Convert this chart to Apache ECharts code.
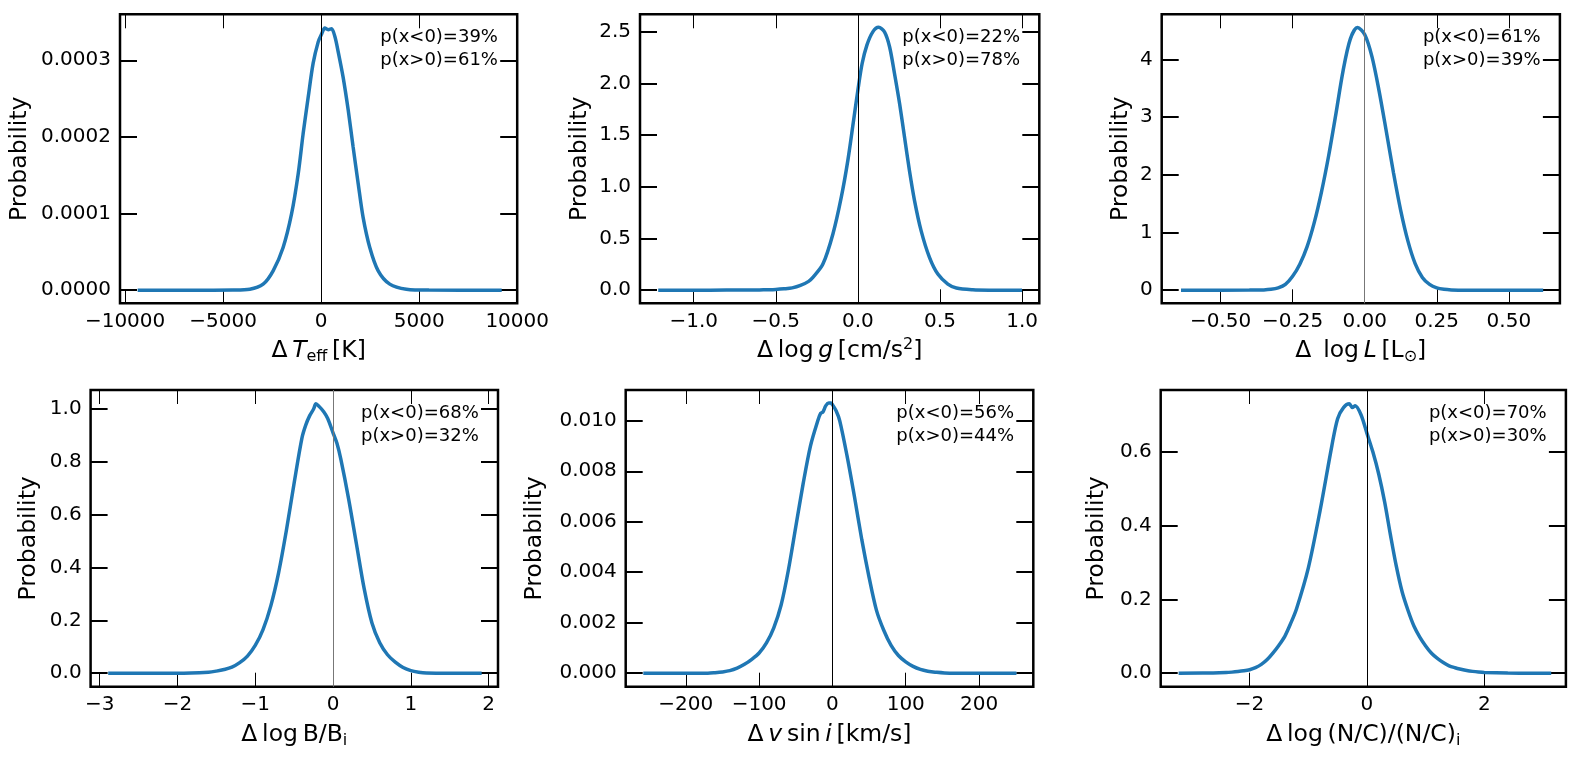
<!DOCTYPE html>
<html>
<head>
<meta charset="utf-8">
<title>Posterior differences</title>
<script src="https://cdn.jsdelivr.net/npm/echarts@6/dist/echarts.min.js"></script>
<style>
  html, body { margin: 0; padding: 0; background: #fff; }
  #main { width: 1576px; height: 759px; }
</style>
</head>
<body>
<div id="main"></div>
<script>
// curves (x, probability density)
const teffX = [-9360, -6000, -4500, -3640, -2960, -2450, -1940, -1510, -1170, -920, -660, -410, -150, 0, 190, 360, 530, 700, 870, 1120, 1380, 1630, 1890, 2140, 2480, 2910, 3500, 4350, 5500, 9210]
const teffY = [0, 0, 0.0000002, 0.0000013, 0.0000079, 0.0000253, 0.0000558, 0.0000995, 0.000152, 0.000204, 0.000252, 0.000296, 0.000324, 0.000333, 0.000342, 0.00034, 0.000341, 0.000331, 0.000311, 0.000278, 0.000235, 0.000187, 0.000139, 0.000095, 0.0000558, 0.0000253, 0.0000079, 0.0000013, 0.0000001, 0]

const loggX = [-1.216, -0.9, -0.7, -0.6, -0.55, -0.5, -0.45, -0.4, -0.35, -0.3, -0.274, -0.213, -0.152, -0.101, -0.061, -0.026, 0, 0.026, 0.055, 0.091, 0.126, 0.162, 0.193, 0.223, 0.254, 0.284, 0.314, 0.345, 0.385, 0.436, 0.487, 0.548, 0.6, 0.7, 0.8, 1.0]
const loggY = [0, 0, 0.0005, 0.002, 0.004, 0.007, 0.013, 0.022, 0.045, 0.085, 0.123, 0.252, 0.544, 0.9, 1.256, 1.644, 1.935, 2.194, 2.372, 2.5, 2.544, 2.5, 2.356, 2.097, 1.806, 1.482, 1.158, 0.867, 0.576, 0.317, 0.155, 0.058, 0.02, 0.003, 0, 0]

const loglX = [-0.637, -0.4, -0.35, -0.325, -0.3, -0.275, -0.25, -0.225, -0.2, -0.175, -0.15, -0.125, -0.1, -0.075, -0.05, -0.025, 0, 0.025, 0.05, 0.075, 0.1, 0.125, 0.15, 0.175, 0.2, 0.225, 0.25, 0.275, 0.3, 0.35, 0.619]
const loglY = [0, 0.001, 0.005, 0.015, 0.04, 0.1, 0.24, 0.45, 0.75, 1.17, 1.7, 2.33, 3.05, 3.8, 4.35, 4.55, 4.43, 4.05, 3.45, 2.75, 2.03, 1.38, 0.85, 0.46, 0.22, 0.1, 0.04, 0.015, 0.005, 0, 0]

const logbX = [-2.89, -2.0, -1.6, -1.5, -1.4, -1.3, -1.2, -1.1, -1.0, -0.9, -0.8, -0.7, -0.6, -0.5, -0.4, -0.35, -0.3, -0.25, -0.22, -0.18, -0.12, -0.07, 0, 0.05, 0.1, 0.2, 0.3, 0.4, 0.5, 0.6, 0.7, 0.8, 0.9, 1.0, 1.1, 1.2, 1.5, 1.91]
const logbY = [0, 0, 0.004, 0.008, 0.014, 0.023, 0.04, 0.065, 0.105, 0.165, 0.255, 0.38, 0.54, 0.72, 0.89, 0.94, 0.975, 1.0, 1.02, 1.01, 0.99, 0.965, 0.91, 0.87, 0.81, 0.66, 0.49, 0.32, 0.19, 0.115, 0.07, 0.042, 0.022, 0.01, 0.004, 0.001, 0, 0]

const vsiniX = [-258, -170, -160, -150, -140, -130, -120, -110, -100, -90, -80, -70, -60, -50, -40, -30, -20, -16, -13, -9, -5, -2, 0, 5, 10, 20, 30, 40, 50, 60, 70, 80, 90, 100, 110, 120, 130, 140, 160, 251]
const vsiniY = [0, 0, 0.00002, 0.00005, 0.0001, 0.0002, 0.00035, 0.00055, 0.0008, 0.0012, 0.0018, 0.0027, 0.0041, 0.0058, 0.0075, 0.009, 0.01, 0.0103, 0.01035, 0.0106, 0.0107, 0.0107, 0.01064, 0.0104, 0.01, 0.0086, 0.007, 0.0053, 0.0038, 0.0025, 0.0017, 0.0011, 0.0007, 0.00045, 0.00027, 0.00015, 0.00008, 0.00004, 0, 0]

const ncX = [-3.21, -2.8, -2.4, -2.3, -2.2, -2.1, -2.0, -1.9, -1.8, -1.7, -1.6, -1.5, -1.4, -1.3, -1.2, -1.0, -0.8, -0.6, -0.5, -0.4, -0.3, -0.25, -0.2, -0.1, 0, 0.1, 0.2, 0.3, 0.4, 0.5, 0.6, 0.7, 0.8, 0.9, 1.0, 1.1, 1.2, 1.3, 1.4, 1.5, 1.6, 1.7, 1.8, 1.9, 2.0, 2.4, 2.8, 3.14]
const ncY = [0, 0.0003, 0.002, 0.003, 0.0045, 0.0065, 0.0095, 0.015, 0.024, 0.037, 0.055, 0.076, 0.1, 0.135, 0.175, 0.285, 0.44, 0.615, 0.69, 0.72, 0.73, 0.72, 0.725, 0.7, 0.65, 0.6, 0.54, 0.465, 0.375, 0.29, 0.22, 0.17, 0.128, 0.098, 0.074, 0.054, 0.04, 0.029, 0.02, 0.015, 0.011, 0.0075, 0.005, 0.0032, 0.002, 0.0005, 0, 0]

// tick values
const teffTicksX = [-10000, -5000, 0, 5000, 10000]
const teffTicksY = [0, 0.0001, 0.0002, 0.0003]
const loggTicksX = [-1, -0.5, 0, 0.5, 1]
const loggTicksY = [0, 0.5, 1, 1.5, 2, 2.5]
const loglTicksX = [-0.5, -0.25, 0, 0.25, 0.5]
const loglTicksY = [0, 1, 2, 3, 4]
const logbTicksX = [-3, -2, -1, 0, 1, 2]
const logbTicksY = [0, 0.2, 0.4, 0.6, 0.8, 1.0]
const vsiniTicksX = [-200, -100, 0, 100, 200]
const vsiniTicksY = [0, 0.002, 0.004, 0.006, 0.008, 0.010]
const ncTicksX = [-2, 0, 2]
const ncTicksY = [0, 0.2, 0.4, 0.6]

const pBelow = ['39%', '22%', '61%', '68%', '56%', '70%']
const pAbove = ['61%', '78%', '39%', '32%', '44%', '30%']

const FONT = 'DejaVu Sans'

const panels = [
    { box: [120, 14.3, 397.2, 289], xr: [-10260, 10000], yr: [-0.0000171, 0.00036],
      xs: teffX, ys: teffY, xt: teffTicksX, yt: teffTicksY, xd: 0, yd: 4, yGap: 88, zero: '#000',
      name: '{n|Δ\u2009}{it|T}{sb|eff}{n|\u2009[K]}' },
    { box: [640, 14.3, 399.3, 289], xr: [-1.327, 1.105], yr: [-0.1275, 2.67],
      xs: loggX, ys: loggY, xt: loggTicksX, yt: loggTicksY, xd: 1, yd: 1, yGap: 48, zero: '#000',
      name: '{n|Δ\u2009log\u2009}{it|g}{n|\u2009[cm/s}{sp|2}{n|]}' },
    { box: [1161.7, 14.3, 398.2, 289], xr: [-0.704, 0.677], yr: [-0.2275, 4.78],
      xs: loglX, ys: loglY, xt: loglTicksX, yt: loglTicksY, xd: 2, yd: 0, yGap: 29, zero: '#777',
      name: '{n|Δ\u2002log\u2009}{it|L}{n|\u2009[L}{sb|⊙}{n|]}' },
    { box: [90.6, 390, 407.4, 296.7], xr: [-3.116, 2.12], yr: [-0.051, 1.072],
      xs: logbX, ys: logbY, xt: logbTicksX, yt: logbTicksY, xd: 0, yd: 1, yGap: 50, zero: '#777',
      name: '{n|Δ\u2009log\u2009B/B}{sb|i}' },
    { box: [625.7, 390, 407.6, 296.7], xr: [-282, 274], yr: [-0.000535, 0.01122],
      xs: vsiniX, ys: vsiniY, xt: vsiniTicksX, yt: vsiniTicksY, xd: 0, yd: 3, yGap: 79, zero: '#000',
      name: '{n|Δ\u2009}{it|v}{n|\u2009sin\u2009}{it|i}{n|\u2009[km/s]}' },
    { box: [1160.7, 390, 405.2, 296.7], xr: [-3.515, 3.39], yr: [-0.0365, 0.7676],
      xs: ncX, ys: ncY, xt: ncTicksX, yt: ncTicksY, xd: 0, yd: 1, yGap: 52, zero: '#000',
      name: '{n|Δ\u2009log\u2009(N/C)/(N/C)}{sb|i}' }
]

const rich = {
    n: { fontSize: 23.5, fontFamily: FONT, lineHeight: 28, color: '#000' },
    it: { fontSize: 23.5, fontFamily: FONT, fontStyle: 'italic', lineHeight: 28, color: '#000' },
    sb: { fontSize: 16, fontFamily: FONT, lineHeight: 16, padding: [12, 0, 0, 0], color: '#000' },
    sp: { fontSize: 16, fontFamily: FONT, lineHeight: 16, padding: [0, 0, 12, 0], color: '#000' }
}

function fmt(v, d) {
    let s = Math.abs(v).toFixed(d)
    return (v < -1e-12 ? '\u2212' : '') + s
}

let grids = [], xAxes = [], yAxes = [], series = [], texts = []

panels.forEach((p, i) => {
    let [left, top, width, height] = p.box
    grids.push({
        left: left, top: top, width: width, height: height,
        show: true, borderColor: '#000', borderWidth: 2.5,
        backgroundColor: 'rgba(0,0,0,0)', containLabel: false, outerBoundsMode: 'none'
    })

    // bottom + top x axes
    ;['bottom', 'top'].forEach(pos => {
        let main = pos === 'bottom'
        xAxes.push({
            type: 'value', gridIndex: i, position: pos,
            min: p.xr[0], max: p.xr[1],
            axisLine: { show: false, onZero: false }, splitLine: { show: false },
            axisTick: { show: true, inside: true, length: 14, customValues: p.xt,
                lineStyle: { color: '#000', width: 1 } },
            axisLabel: { show: main, customValues: p.xt, margin: 8,
                formatter: v => fmt(v, p.xd),
                fontSize: 20, fontFamily: FONT, color: '#000' },
            name: main ? p.name : '', nameLocation: 'middle', nameGap: 34,
            nameMoveOverlap: false,
            nameTextStyle: { rich: rich }
        })
    })

    // left + right y axes
    ;['left', 'right'].forEach(pos => {
        let main = pos === 'left'
        yAxes.push({
            type: 'value', gridIndex: i, position: pos,
            min: p.yr[0], max: p.yr[1],
            axisLine: { show: false, onZero: false }, splitLine: { show: false },
            axisTick: { show: true, inside: true, length: 17, customValues: p.yt,
                lineStyle: { color: '#000', width: 2 } },
            axisLabel: { show: main, customValues: p.yt, margin: 9,
                formatter: v => fmt(v, p.yd),
                fontSize: 20, fontFamily: FONT, color: '#000' },
            name: main ? 'Probability' : '', nameLocation: 'middle', nameGap: p.yGap,
            nameMoveOverlap: false,
            nameTextStyle: { fontSize: 23.5, fontFamily: FONT, color: '#000' }
        })
    })

    series.push({
        type: 'line',
        xAxisIndex: i * 2, yAxisIndex: i * 2,
        data: p.xs.map((x, k) => [x, p.ys[k]]),
        showSymbol: false, smooth: 0.3,
        lineStyle: { color: '#1f77b4', width: 3.5 },
        itemStyle: { color: '#1f77b4' },
        markLine: {
            silent: true, symbol: 'none', label: { show: false },
            lineStyle: { color: p.zero, width: 1, type: 'solid' },
            data: [{ xAxis: 0 }]
        },
        z: 3
    })

    texts.push({
        type: 'text',
        x: left + width - 137, y: top + 11.3,
        style: {
            text: 'p(x<0)=' + pBelow[i] + '\np(x>0)=' + pAbove[i],
            font: '18px "DejaVu Sans"', fill: '#000',
            lineHeight: 23.3, align: 'left', verticalAlign: 'top'
        },
        z: 10
    })
})

var myChart = echarts.init(document.getElementById('main'))

let option = {
    animation: false,
    backgroundColor: '#fff',
    grid: grids,
    xAxis: xAxes,
    yAxis: yAxes,
    series: series,
    graphic: texts
}

myChart.setOption(option)
</script>
</body>
</html>
